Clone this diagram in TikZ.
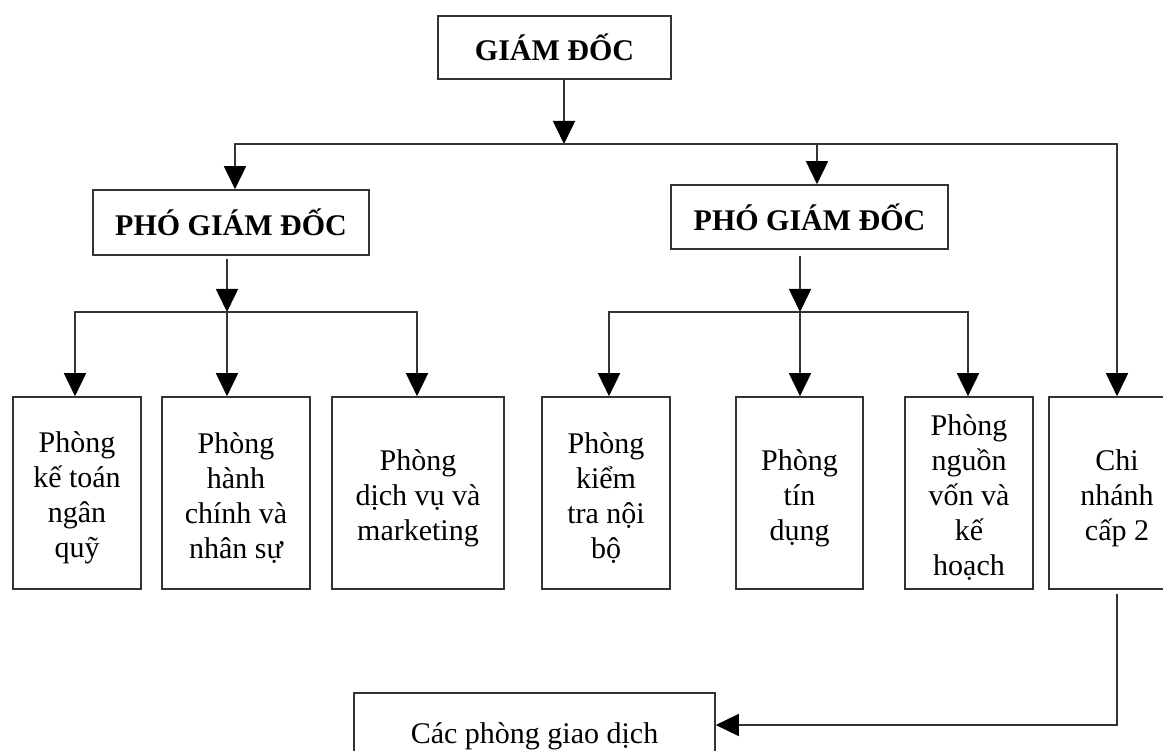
\documentclass[tikz,border=0pt]{standalone}
\usepackage{fontspec}
\setmainfont{Liberation Serif}
\usetikzlibrary{arrows.meta}
\begin{document}
\begin{tikzpicture}[x=1pt,y=-1pt,
  box/.style={draw=black!80, line width=1.6pt, inner sep=0pt, align=center, font=\fontsize{30}{35}\selectfont},
  boss/.style={box, font=\fontsize{30}{35}\selectfont\bfseries},
  dept/.style={box, minimum height=192pt},
  txt/.style={inner sep=0pt, align=center, font=\fontsize{30}{35}\selectfont, yshift=-5pt},
  conn/.style={draw=black!80, line width=1.6pt},
  arr/.style={conn, -{Triangle[length=23pt,width=22pt,color=black]}},
]
\useasboundingbox (0,0) rectangle (1163,751);
\clip (0,0) rectangle (1163,751);
% top level
\node[boss, minimum width=233pt, minimum height=63pt] (gd) at (554.5,47.5) {GIÁM ĐỐC};
\node[boss, minimum width=276pt, minimum height=65pt] (pgd1) at (231,222.5) {PHÓ GIÁM ĐỐC};
\node[boss, minimum width=277pt, minimum height=64pt] (pgd2) at (809.5,217) {PHÓ GIÁM ĐỐC};
% departments
\node[dept, minimum width=128pt, label={[txt]center:{Phòng\\kế toán\\ngân\\quỹ}}] (b1) at (77,493) {};
\node[dept, minimum width=148pt, label={[txt]center:{Phòng\\hành\\chính và\\nhân sự}}] (b2) at (236,493) {};
\node[dept, minimum width=172pt, label={[txt]center:{Phòng\\dịch vụ và\\marketing}}] (b3) at (418,493) {};
\node[dept, minimum width=128pt, label={[txt]center:{Phòng\\kiểm\\tra nội\\bộ}}] (b4) at (606,493) {};
\node[dept, minimum width=127pt, label={[txt]center:{Phòng\\tín\\dụng}}] (b5) at (799.5,493) {};
\node[dept, minimum width=128pt, label={[txt]center:{Phòng\\nguồn\\vốn và\\kế\\hoạch}}] (b6) at (969,493) {};
\node[dept, minimum width=136pt, label={[txt]center:{Chi\\nhánh\\cấp 2}}] (b7) at (1117,493) {};
\node[box, minimum width=361pt, minimum height=78pt, label={[txt, yshift=1pt]center:{Các phòng giao dịch}}] (b8) at (534.5,732) {};
% junctions
\coordinate (j0) at (564,144);
\coordinate (jl) at (235,144);
\coordinate (jm) at (817,144);
\coordinate (jr) at (1117,144);
\coordinate (k1) at (227,312);
\coordinate (k1a) at (75,312);
\coordinate (k1c) at (417,312);
\coordinate (k2) at (800,312);
\coordinate (k2a) at (609,312);
\coordinate (k2c) at (968,312);
\coordinate (t) at (1117,725);
% connectors
\draw[arr] (j0 |- gd.south) -- (j0);
\draw[arr] (j0) -| (jl |- pgd1.north);
\draw[arr] (j0) -| (jr |- b7.north);
\draw[arr] (jm) -- (jm |- pgd2.north);
\draw[arr] ([yshift=-3pt]k1 |- pgd1.south) -- (k1);
\draw[arr] (k1) -| (k1a |- b1.north);
\draw[arr] (k1) -| (k1c |- b3.north);
\draw[arr] (k1) -- (k1 |- b2.north);
\draw[arr] ([yshift=-6pt]k2 |- pgd2.south) -- (k2);
\draw[arr] (k2) -| (k2a |- b4.north);
\draw[arr] (k2) -| (k2c |- b6.north);
\draw[arr] (k2) -- (k2 |- b5.north);
\draw[arr] ([yshift=-4pt]b7.south) -- (t) -- (t -| b8.east);
\end{tikzpicture}
\end{document}
